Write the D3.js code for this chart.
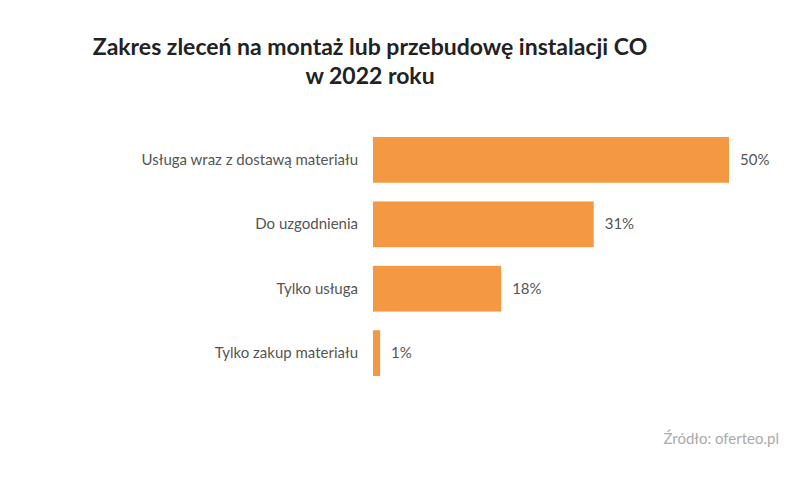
<!DOCTYPE html><html><head><meta charset="utf-8"><script src="https://cdn.jsdelivr.net/npm/d3@7"></script>
<style>body{margin:0;background:#fff}</style></head><body><svg id="c" width="800" height="484"></svg>
<script>
const categories=["Usługa wraz z dostawą materiału","Do uzgodnienia","Tylko usługa","Tylko zakup materiału"];
const values=[50,31,18,1];
const svg=d3.select("#c");
const font="Lato, sans-serif";
const x=d3.scaleLinear().domain([0,50]).range([373,729]);
const y=d3.scaleBand().domain(categories).range([128,385]).paddingInner(0.29).paddingOuter(0.14);
svg.append("text").attr("x",370).attr("y",55).attr("text-anchor","middle").attr("font-family",font).attr("font-weight","bold").attr("font-size",23).attr("fill","#222").text("Zakres zleceń na montaż lub przebudowę instalacji CO");
svg.append("text").attr("x",370).attr("y",84).attr("text-anchor","middle").attr("font-family",font).attr("font-weight","bold").attr("font-size",23).attr("fill","#222").text("w 2022 roku");
svg.selectAll("rect").data(values).join("rect").attr("x",x(0)).attr("y",(d,i)=>y(categories[i])).attr("width",d=>x(d)-x(0)).attr("height",y.bandwidth()).attr("fill","#F49841");
svg.selectAll(".v").data(values).join("text").attr("x",d=>x(d)+11).attr("y",(d,i)=>y(categories[i])+y.bandwidth()/2+5).attr("font-family",font).attr("font-size",15).attr("fill","#555").text(d=>d+"%");
svg.selectAll(".c").data(categories).join("text").attr("x",358).attr("y",d=>y(d)+y.bandwidth()/2+5).attr("text-anchor","end").attr("font-family",font).attr("font-size",15).attr("fill","#555").text(d=>d);
svg.append("text").attr("x",779).attr("y",444).attr("text-anchor","end").attr("font-family",font).attr("font-size",15).attr("fill","#aaa").text("Źródło: oferteo.pl");
</script></body></html>
